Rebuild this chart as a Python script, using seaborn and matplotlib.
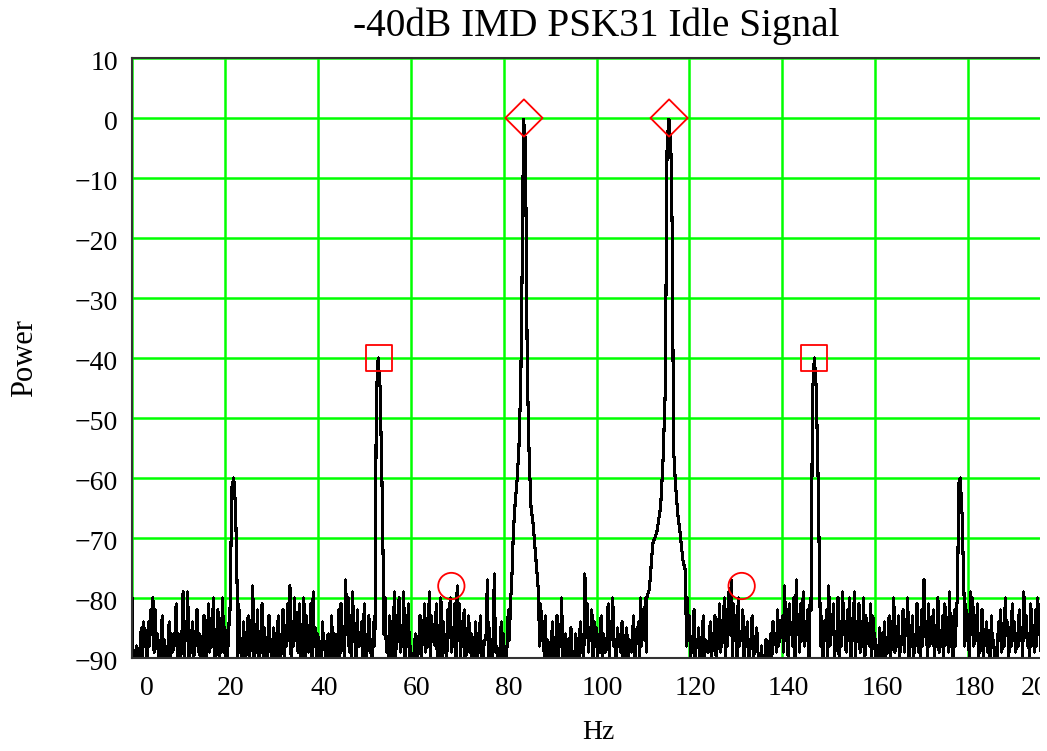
import matplotlib
matplotlib.use("Agg")
import numpy as np
import pandas as pd
import seaborn as sns
import matplotlib.pyplot as plt
from matplotlib import transforms as mtransforms
from matplotlib.patches import Rectangle

# ---------------- data ----------------
title = "-40dB IMD PSK31 Idle Signal"
x_ticks = [0, 20, 40, 60, 80, 100, 120, 140, 160, 180, 200]
y_ticks = [-90, -80, -70, -60, -50, -40, -30, -20, -10, 0, 10]

# noise floor, one value every 0.5 Hz from 0 to 199.5 Hz (dB)
noise_step = 0.5
noise_db = [
    -80, -90, -88, -92, -85, -84, -88, -84, -82, -80,
    -82, -86, -91, -83, -87, -90, -84, -86, -88, -81,
    -86, -90, -79, -85, -79, -89, -84, -87, -82, -86,
    -88, -83, -90, -81, -85, -80, -87, -82, -89, -80,
    -85, -90, -82, -86, -87, -83, -81, -87, -84, -90,
    -83, -88, -78, -86, -82, -90, -81, -85, -91, -83,
    -87, -85, -90, -83, -88, -82, -86, -81, -78, -84,
    -80, -86, -81, -88, -80, -83, -89, -81, -79, -85,
    -86, -90, -84, -88, -87, -92, -83, -86, -90, -82,
    -81, -86, -77, -80, -83, -79, -87, -82, -88, -84,
    -81, -90, -83, -87, -84, -86, -85, -84, -85, -80,
    -87, -83, -90, -79, -83, -80, -85, -79, -88, -81,
    -88, -92, -86, -90, -83, -87, -81, -85, -79, -83,
    -86, -81, -90, -80, -84, -88, -82, -80, -85, -81,
    -78, -81, -84, -82, -88, -83, -86, -90, -84, -89,
    -83, -92, -87, -77, -85, -90, -76, -88, -91, -84,
    -86, -90, -82, -80, -85, -85, -85, -85, -85, -85,
    -85, -85, -85, -85, -85, -85, -81, -84, -83, -87,
    -90, -84, -92, -83, -86, -80, -88, -87, -91, -85,
    -89, -86, -92, -84, -88, -76, -81, -85, -82, -84,
    -85, -87, -83, -86, -89, -81, -85, -80, -87, -85,
    -88, -84, -90, -85, -87, -89, -83, -87, -84, -80,
    -82, -80, -85, -85, -85, -85, -85, -85, -85, -85,
    -85, -85, -85, -85, -85, -85, -85, -85, -85, -80,
    -83, -88, -82, -87, -85, -90, -83, -87, -89, -84,
    -86, -83, -88, -81, -85, -80, -82, -79, -77, -81,
    -83, -80, -86, -82, -88, -84, -87, -83, -89, -85,
    -90, -88, -92, -87, -90, -86, -84, -86, -82, -84,
    -83, -78, -82, -81, -85, -80, -77, -83, -81, -79,
    -84, -82, -80, -85, -85, -85, -85, -83, -84, -82,
    -78, -85, -81, -87, -80, -84, -79, -86, -82, -80,
    -85, -79, -84, -81, -86, -80, -83, -87, -81, -83,
    -87, -90, -85, -91, -84, -88, -83, -87, -80, -86,
    -83, -87, -82, -85, -80, -86, -83, -88, -81, -85,
    -82, -77, -84, -81, -86, -82, -85, -80, -87, -83,
    -81, -85, -79, -84, -82, -82, -85, -85, -85, -81,
    -83, -79, -80, -84, -81, -86, -82, -87, -84, -88,
    -83, -87, -90, -84, -82, -86, -80, -84, -85, -81,
    -84, -87, -82, -85, -79, -83, -86, -81, -85, -82,
    -80, -84, -86, -82, -85, -81, -87, -83, -80, -85,
]
# in-between noise samples at 0.25, 0.75, ... 199.75 Hz (dB)
noise_mid_db = [
    -92, -89, -93, -88, -90, -87, -91, -88, -86, -89,
    -88, -92, -87, -90, -93, -88, -90, -89, -86, -90,
    -93, -86, -90, -87, -92, -88, -91, -86, -89, -92,
    -87, -91, -86, -89, -88, -92, -86, -90, -87, -89,
    -91, -87, -90, -88, -86, -92, -89, -91, -88, -87,
    -90, -87, -91, -89, -93, -86, -90, -92, -87, -89,
    -92, -88, -86, -91, -87, -90, -88, -87, -90, -88,
    -87, -89, -92, -86, -90, -88, -86, -90, -88, -91,
    -89, -93, -88, -91, -86, -90, -92, -87, -89, -90,
    -88, -91, -86, -89, -90, -87, -92, -88, -86, -90,
    -91, -87, -89, -92, -88, -87, -90, -88, -86, -89,
    -90, -88, -86, -91, -87, -89, -88, -92, -87, -90,
    -93, -89, -91, -87, -90, -86, -89, -88, -91, -87,
    -88, -92, -86, -90, -87, -91, -86, -89, -88, -90,
    -87, -90, -88, -92, -86, -89, -91, -88, -93, -87,
    -91, -88, -86, -90, -92, -87, -89, -91, -88, -90,
    -92, -88, -87, -89, -88, -88, -88, -88, -88, -88,
    -88, -88, -88, -88, -88, -88, -87, -90, -92, -88,
    -89, -92, -87, -90, -88, -91, -86, -93, -87, -90,
    -92, -88, -90, -87, -91, -86, -89, -87, -90, -88,
    -90, -86, -91, -89, -87, -90, -86, -88, -91, -87,
    -89, -92, -87, -90, -88, -86, -91, -87, -90, -88,
    -87, -89, -88, -88, -88, -88, -88, -88, -88, -88,
    -88, -88, -88, -88, -88, -88, -88, -88, -88, -87,
    -90, -87, -91, -88, -92, -86, -90, -88, -87, -91,
    -88, -90, -86, -89, -87, -91, -88, -86, -90, -87,
    -91, -88, -87, -90, -86, -92, -88, -90, -87, -89,
    -93, -91, -90, -92, -88, -90, -87, -89, -88, -86,
    -89, -87, -90, -86, -88, -91, -86, -89, -87, -88,
    -87, -90, -88, -88, -88, -88, -88, -90, -87, -91,
    -88, -86, -90, -87, -91, -88, -86, -89, -87, -92,
    -87, -90, -86, -89, -88, -91, -87, -88, -90, -86,
    -92, -89, -93, -88, -90, -87, -91, -86, -89, -88,
    -90, -87, -89, -86, -91, -88, -90, -87, -89, -92,
    -88, -86, -90, -88, -87, -91, -86, -89, -88, -90,
    -87, -89, -88, -90, -88, -88, -88, -88, -88, -87,
    -90, -86, -88, -87, -91, -88, -90, -86, -89, -92,
    -88, -91, -93, -87, -89, -88, -86, -90, -88, -87,
    -89, -88, -87, -90, -86, -88, -91, -87, -89, -88,
    -86, -90, -88, -87, -91, -86, -89, -88, -87, -90,
]

# spectral peaks (Hz, dB)
peak_22_hz = [21.1, 21.5, 21.9, 22.3, 22.7]
peak_22_db = [-82, -61.5, -60, -65, -81]
peak_53_hz = [52.3, 52.6, 53.0, 53.4, 53.8, 54.2]
peak_53_db = [-86, -46.4, -40, -44.8, -59.8, -81]
peak_84_hz = [81.7, 82.1, 82.5, 82.9, 83.3, 83.7, 84.0, 84.3, 84.7, 85.1,
              85.5, 85.9, 86.3, 86.7, 87.1, 87.5]
peak_84_db = [-78.5, -69, -64, -60.3, -55, -44, -24.5, -0.3, -4, -42,
              -56.4, -64.8, -67.3, -71, -75, -79]
peak_116_hz = [110.8, 111.4, 112.1, 113.0, 113.8, 114.3, 114.8, 115.2, 115.6,
               116.0, 116.3, 116.6, 117.0, 117.5, 118.0, 118.6, 119.1, 119.4]
peak_116_db = [-80, -78.5, -71, -69, -64.8, -57.5, -45.6, -4, -0.2,
               -4.5, -19, -55.3, -61, -66, -69.2, -73.7, -75.3, -88]
peak_147_hz = [146.2, 146.5, 146.9, 147.3, 147.7, 148.1]
peak_147_db = [-82, -46, -40, -45, -60, -80]
peak_178_hz = [177.7, 178.0, 178.3, 178.7, 179.2]
peak_178_db = [-80, -61, -60, -66, -82]

# marker annotations
tone_hz = [84.375, 115.625]
tone_db = [0, 0]
imd3_hz = [53.125, 146.875]
imd3_db = [-40, -40]
imd5_hz = [68.75, 131.25]
imd5_db = [-78, -78]

# ---------------- build spectrum ----------------
noise_hz = np.concatenate([np.arange(len(noise_db)) * noise_step,
                           np.arange(len(noise_mid_db)) * noise_step + noise_step / 2])
noise_all = np.array(noise_db + noise_mid_db, dtype=float)
peaks = [(peak_22_hz, peak_22_db), (peak_53_hz, peak_53_db),
         (peak_84_hz, peak_84_db), (peak_116_hz, peak_116_db),
         (peak_147_hz, peak_147_db), (peak_178_hz, peak_178_db)]
keep = np.ones(len(noise_hz), dtype=bool)
for ph, _ in peaks:
    keep &= ~((noise_hz >= min(ph)) & (noise_hz <= max(ph)))
hz_all = list(noise_hz[keep])
db_all = list(noise_all[keep])
for ph, pd_ in peaks:
    hz_all += list(ph)
    db_all += list(pd_)
spec = pd.DataFrame({"Hz": hz_all, "Power": db_all}).sort_values("Hz")

# ---------------- plot ----------------
sns.set_style("white")
plt.rcParams["font.family"] = ["Liberation Serif", "DejaVu Serif"]
plt.rcParams["text.color"] = "black"
plt.rcParams["axes.labelcolor"] = "black"

W, H = 1047, 751
fig = plt.figure(figsize=(W / 100, H / 100), dpi=100)
ax = fig.add_axes([132 / W, 93 / H, 929 / W, 600 / H])

sns.lineplot(data=spec, x="Hz", y="Power", color="black", linewidth=1.5,
             estimator=None, sort=True, antialiased=False, ax=ax)

for hz, db, mk in [(tone_hz, tone_db, "D"), (imd3_hz, imd3_db, "s"),
                   (imd5_hz, imd5_db, "o")]:
    sns.scatterplot(x=hz, y=db, marker=mk, s=360, facecolor="none",
                    edgecolor="#ff0000", linewidth=1.3, zorder=5, ax=ax,
                    legend=False)

ax.set_xlim(0, 200)
ax.set_ylim(-90, 10)
ax.set_xticks(x_ticks)
ax.set_yticks(y_ticks)
ax.set_xticklabels([str(v) for v in x_ticks])
ax.set_yticklabels([str(v).replace("-", "\u2212") for v in y_ticks])
ax.tick_params(axis="both", length=0, labelsize=20, colors="black")
ax.tick_params(axis="x", pad=13)
ax.tick_params(axis="y", pad=10)

ax.grid(True, color="#00ff00", linewidth=1.8)
ax.set_axisbelow(True)
for side in ["left", "top", "bottom"]:
    ax.spines[side].set_color("#333333")
    ax.spines[side].set_linewidth(1.5)
ax.spines["right"].set_visible(False)

ax.set_title(title, fontsize=28.3, pad=16, color="black")
ax.set_xlabel("Hz", fontsize=20)
ax.set_ylabel("Power", fontsize=22)
ax.xaxis.set_label_coords(0.5016, -0.103)
ax.yaxis.set_label_coords(-0.10, 0.5)

# shift tick labels like the original
x_dx = [15, 6, 6, 6, 5, 6, 6, 6, 7, 6, -20]
for tick, dx in zip(ax.xaxis.get_major_ticks(), x_dx):
    tick.label1.set_transform(tick.label1.get_transform() +
                              mtransforms.ScaledTranslation(dx / 100, 0, fig.dpi_scale_trans))
for tick in ax.yaxis.get_major_ticks():
    tick.label1.set_transform(tick.label1.get_transform() +
                              mtransforms.ScaledTranslation(0, -3 / 100, fig.dpi_scale_trans))

# original image is cropped a few pixels before its right edge
fig.add_artist(Rectangle((1040 / W, 0), 0.02, 1, transform=fig.transFigure,
                         facecolor="white", edgecolor="none", zorder=10))

fig.savefig("out.png", dpi=100)
